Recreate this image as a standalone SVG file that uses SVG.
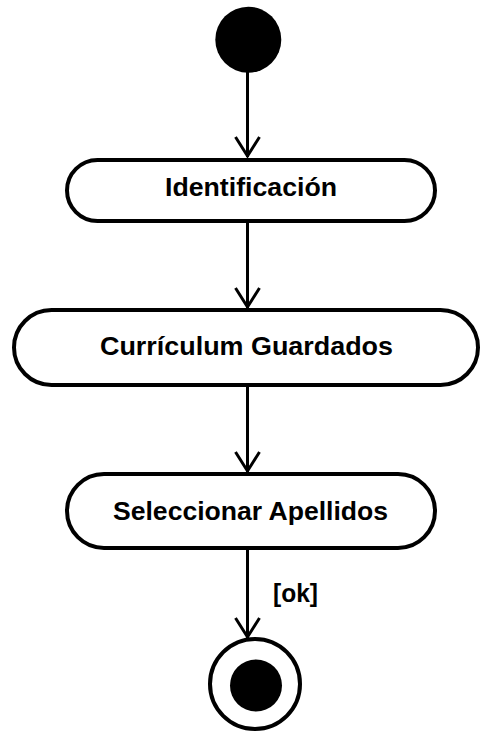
<svg xmlns="http://www.w3.org/2000/svg" width="481" height="733" viewBox="0 0 481 733">
<style>
.act{fill:#fff;stroke:#000;stroke-width:4}
.lbl{font-family:"Liberation Sans",Arial,sans-serif;font-weight:bold;font-size:25px;fill:#000;text-anchor:middle}
.edge{fill:none;stroke:#000;stroke-width:3}
.head{fill:none;stroke:#000;stroke-width:3;stroke-linejoin:miter}
</style>
<rect width="481" height="733" fill="#fff"/>
<g id="connectors">
  <g id="e1"><line class="edge" x1="247.5" y1="72" x2="247.5" y2="157"/><polyline class="head" points="235.5,137 247.5,156 259.5,137"/></g>
  <g id="e2"><line class="edge" x1="247.5" y1="223" x2="247.5" y2="308"/><polyline class="head" points="235.5,288 247.5,307 259.5,288"/></g>
  <g id="e3"><line class="edge" x1="247.5" y1="387" x2="247.5" y2="472"/><polyline class="head" points="235.5,452 247.5,471 259.5,452"/></g>
  <g id="e4"><line class="edge" x1="247.5" y1="550" x2="247.5" y2="638"/><polyline class="head" points="235.5,618 247.5,637 259.5,618"/>
    <text class="lbl" x="295.5" y="602" font-size="22" textLength="45" lengthAdjust="spacingAndGlyphs">[ok]</text></g>
</g>
<g id="start"><circle cx="248.3" cy="39.7" r="33" fill="#000"/></g>
<g id="identificacion">
  <rect class="act" x="67" y="160" width="368" height="61" rx="30.5"/>
  <text class="lbl" x="251" y="196" textLength="172" lengthAdjust="spacingAndGlyphs">Identificación</text>
</g>
<g id="curriculum">
  <rect class="act" x="14" y="310" width="464" height="75" rx="37.5"/>
  <text class="lbl" x="246.5" y="355" textLength="293" lengthAdjust="spacingAndGlyphs">Currículum Guardados</text>
</g>
<g id="seleccionar">
  <rect class="act" x="67" y="474" width="368" height="74" rx="37"/>
  <text class="lbl" x="250.5" y="520" textLength="275" lengthAdjust="spacingAndGlyphs">Seleccionar Apellidos</text>
</g>
<g id="end">
  <circle cx="255" cy="684" r="45" fill="#fff" stroke="#000" stroke-width="4"/>
  <circle cx="256" cy="685.5" r="26" fill="#000"/>
</g>
</svg>
